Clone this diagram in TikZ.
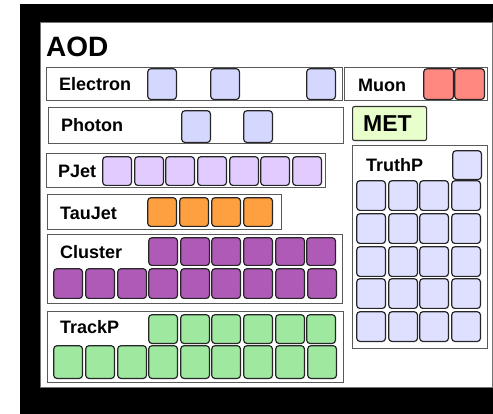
\documentclass[tikz,border=0pt]{standalone}
\usepackage{fontspec}
\setmainfont{Liberation Sans}
\definecolor{elec}{HTML}{D4D8FF}
\definecolor{truth}{HTML}{DFE0FF}
\definecolor{muon}{HTML}{FF8880}
\definecolor{pjet}{HTML}{E2CCFF}
\definecolor{tau}{HTML}{FFA040}
\definecolor{clus}{HTML}{B05AB8}
\definecolor{track}{HTML}{9EE8A0}
\definecolor{met}{HTML}{E8FFCC}
\begin{document}
\begin{tikzpicture}[x=1pt,y=-1pt,
  sq/.style={draw=black!85,line width=1.2pt,rounded corners=3pt,inner sep=0pt,anchor=north west,xshift=-0.8pt,yshift=0.8pt,minimum width=28.6pt,minimum height=29.6pt},
  cont/.style={draw=black!65,line width=0.9pt,inner sep=0pt,anchor=north west,fill=white},
  lbl/.style={anchor=base west,inner sep=0pt,font=\bfseries\fontsize{18}{18}\selectfont}]
\useasboundingbox (0,0) rectangle (493,414);
\fill[black] (20,4) rectangle (493,414);
\fill[white,draw=black!55,line width=0.8pt] (40,22) rectangle (492,387);
\node[anchor=base west,inner sep=0pt,font=\bfseries\fontsize{28}{28}\selectfont] (aod) at (46,57) {AOD};
% containers
\node[cont,minimum width=296pt,minimum height=33pt] (electron) at (46,67) {};
\node[cont,minimum width=143pt,minimum height=33pt] (muon) at (344,67) {};
\node[cont,minimum width=295pt,minimum height=36pt] (photon) at (48,107) {};
\node[cont,fill=met,draw=black!80,line width=1.1pt,rounded corners=2pt,minimum width=74pt,minimum height=34pt] (met) at (352,106) {};
\node[cont,minimum width=279pt,minimum height=34pt] (pjet) at (46,153) {};
\node[cont,minimum width=234pt,minimum height=35pt] (taujet) at (47,194) {};
\node[cont,minimum width=295pt,minimum height=69pt] (cluster) at (47,234) {};
\node[cont,minimum width=296pt,minimum height=71pt] (trackp) at (47,311) {};
\node[cont,minimum width=135pt,minimum height=203pt] (truthp) at (352,145) {};
% labels
\node[lbl] (lelectron) at (59,91) {Electron};
\node[lbl] (lmuon) at (358,92) {Muon};
\node[lbl] (lphoton) at (61,132) {Photon};
\node[anchor=base west,inner sep=0pt,font=\bfseries\fontsize{23}{23}\selectfont] (lmet) at (363,132) {MET};
\node[lbl] (lpjet) at (58,178) {PJet};
\node[lbl] (ltaujet) at (60,220) {TauJet};
\node[lbl] (lcluster) at (60,259) {Cluster};
\node[lbl] (ltrackp) at (60,334) {TrackP};
\node[lbl] (ltruthp) at (366,172) {TruthP};
% squares
\foreach \x [count=\i] in {148,211,307} \node[sq,fill=elec,minimum height=30.6pt] (e\i) at (\x,69) {};
\foreach \x [count=\i] in {424,455} \node[sq,fill=muon,minimum width=29.6pt,minimum height=30.6pt] (m\i) at (\x,69) {};
\foreach \x [count=\i] in {182,244} \node[sq,fill=elec,minimum height=31.6pt] (p\i) at (\x,111) {};
\foreach \x [count=\i] in {103,135,166,198,230,261,293} \node[sq,fill=pjet,minimum height=28.6pt] (j\i) at (\x,157) {};
\foreach \x [count=\i] in {148,180,212,244} \node[sq,fill=tau,minimum height=28.6pt] (t\i) at (\x,198) {};
\foreach \x [count=\i] in {149,181,212,244,276,307} \node[sq,fill=clus,minimum height=27.6pt] (ca\i) at (\x,238) {};
\foreach \x [count=\i] in {54,86,118,149,181,212,244,276,308} \node[sq,fill=clus,minimum height=29.6pt] (cb\i) at (\x,269) {};
\foreach \x [count=\i] in {149,181,212,244,276,307} \node[sq,fill=track,minimum height=28.6pt] (ta\i) at (\x,315) {};
\foreach \x [count=\i] in {54,86,118,149,181,212,244,276,308} \node[sq,fill=track,minimum height=32.6pt] (tb\i) at (\x,346) {};
\node[sq,fill=truth,minimum height=28.6pt] (tp0) at (453,151) {};
\foreach \y [count=\r] in {181,214,247,279,312}
  \foreach \x [count=\c] in {357,389,420,452}
    \node[sq,fill=truth] (tp\r\c) at (\x,\y) {};
\end{tikzpicture}
\end{document}
